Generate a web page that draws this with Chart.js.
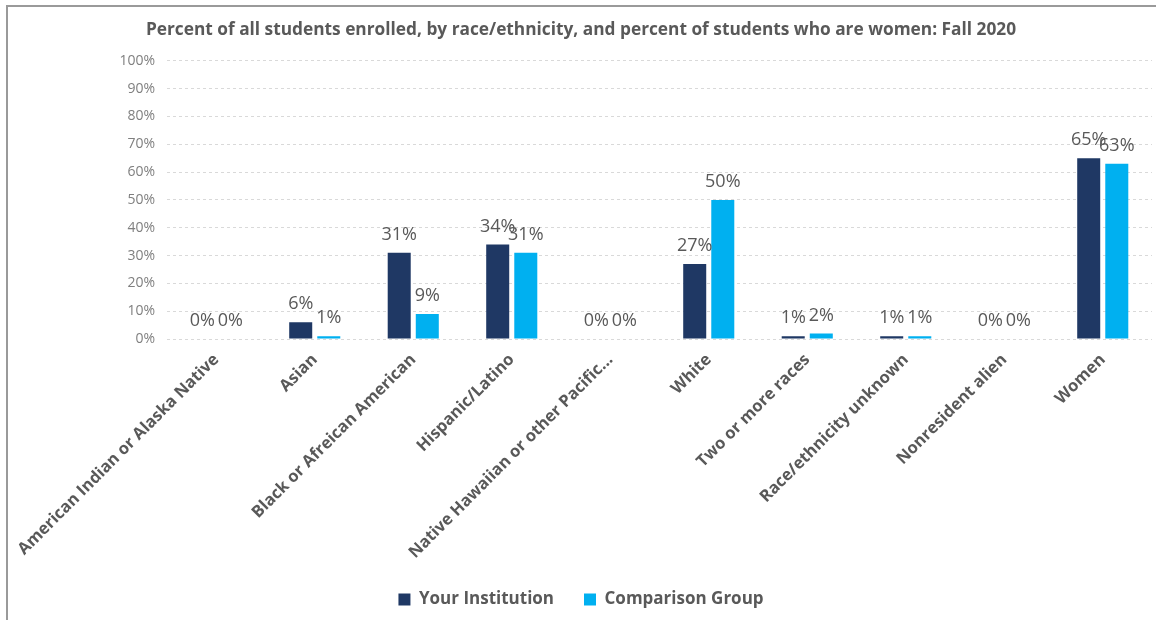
<!DOCTYPE html>
<html>
<head>
<meta charset="utf-8">
<script src="https://cdn.jsdelivr.net/npm/chart.js@4/dist/chart.umd.min.js"></script>
<style>
  html, body { margin: 0; padding: 0; background: #fff; }
  #wrap { position: relative; width: 1156px; height: 620px; }
  #frame {
    position: absolute; left: 6px; top: 5px; right: 0; bottom: 0;
    border-left: 2px solid #9a9a9a; border-top: 2px solid #9a9a9a;
    pointer-events: none;
  }
</style>
</head>
<body>
<div id="wrap">
  <canvas id="enrollChart" width="1156" height="620"></canvas>
  <div id="frame"></div>
</div>
<script>
const categories = [
  'American Indian or Alaska Native',
  'Asian',
  'Black or Afreican American',
  'Hispanic/Latino',
  'Native Hawaiian or other Pacific...',
  'White',
  'Two or more races',
  'Race/ethnicity unknown',
  'Nonresident alien',
  'Women'
];
const yourInstitution = [0, 6, 31, 34, 0, 27, 1, 1, 0, 65];
const comparisonGroup = [0, 1, 9, 31, 0, 50, 2, 1, 0, 63];
const yTicks = [0, 10, 20, 30, 40, 50, 60, 70, 80, 90, 100];

const FONT = "'Open Sans', sans-serif";
const TEXT = '#595959';

// percent labels above each bar
const valueLabels = {
  id: 'valueLabels',
  afterDatasetsDraw(chart) {
    const { ctx } = chart;
    ctx.save();
    ctx.font = `18px ${FONT}`;
    ctx.fillStyle = TEXT;
    ctx.textAlign = 'center';
    ctx.textBaseline = 'middle';
    chart.data.datasets.forEach((ds, i) => {
      chart.getDatasetMeta(i).data.forEach((bar, j) => {
        ctx.fillText(ds.data[j] + '%', bar.x, bar.y - 18);
      });
    });
    ctx.restore();
  }
};

new Chart(document.getElementById('enrollChart'), {
  type: 'bar',
  data: {
    labels: categories,
    datasets: [
      {
        label: 'Your Institution',
        data: yourInstitution,
        backgroundColor: '#1f3864',
        categoryPercentage: 0.57,
        barPercentage: 0.82
      },
      {
        label: 'Comparison Group',
        data: comparisonGroup,
        backgroundColor: '#00b0f0',
        categoryPercentage: 0.57,
        barPercentage: 0.82
      }
    ]
  },
  options: {
    responsive: false,
    animation: false,
    layout: { padding: { left: 10, right: 4, top: 8, bottom: 2 } },
    plugins: {
      title: {
        display: true,
        text: 'Percent of all students enrolled, by race/ethnicity, and percent of students who are women: Fall 2020',
        color: TEXT,
        font: { family: FONT, size: 17.3, weight: 'bold' },
        padding: { top: 12, bottom: 20 }
      },
      legend: {
        position: 'bottom',
        labels: {
          color: TEXT,
          font: { family: FONT, size: 17, weight: 'bold' },
          boxWidth: 12,
          boxHeight: 12,
          padding: 30
        }
      },
      tooltip: { enabled: false }
    },
    scales: {
      y: {
        min: 0,
        max: 100,
        afterFit: (axis) => { axis.width = 157; },
        afterBuildTicks: (axis) => { axis.ticks = yTicks.map(v => ({ value: v })); },
        ticks: {
          color: '#7f7f7f',
          font: { family: FONT, size: 14 },
          padding: 12,
          callback: (v) => v + '%'
        },
        grid: {
          color: '#d9d9d9',
          drawTicks: false
        },
        border: { display: false, dash: [3, 3] }
      },
      x: {
        afterFit: (axis) => { axis.height = 222; },
        ticks: {
          color: TEXT,
          font: { family: FONT, size: 16.5, weight: 'bold' },
          minRotation: 45,
          maxRotation: 45,
          autoSkip: false,
          padding: 3
        },
        grid: { display: false },
        border: { display: false }
      }
    }
  },
  plugins: [valueLabels]
});
</script>
</body>
</html>
